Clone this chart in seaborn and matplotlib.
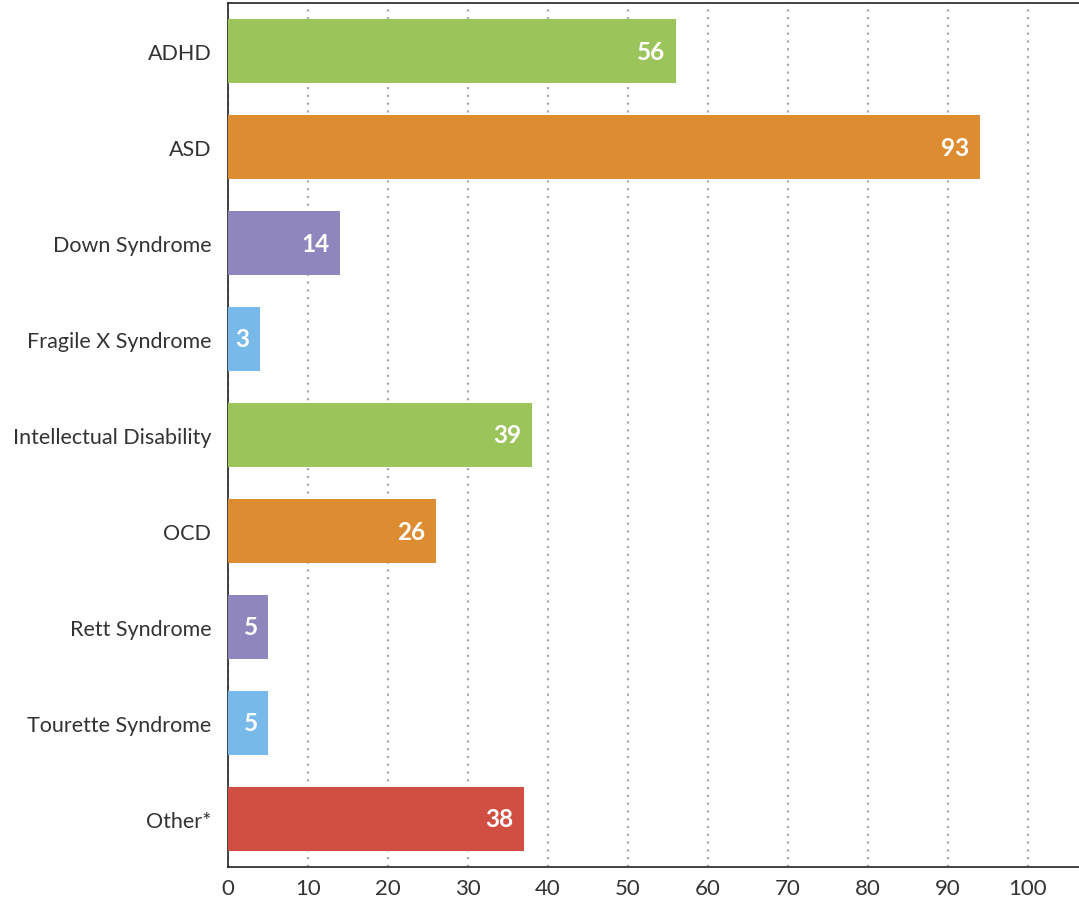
import matplotlib
matplotlib.use('Agg')
import matplotlib.pyplot as plt
import numpy as np
import pandas as pd
import seaborn as sns

# categories, bar lengths and printed labels
categories = ['ADHD', 'ASD', 'Down Syndrome', 'Fragile X Syndrome',
              'Intellectual Disability', 'OCD', 'Rett Syndrome',
              'Tourette Syndrome', 'Other*']
bar_values = [56, 94, 14, 4, 38, 26, 5, 5, 37]
value_labels = ['56', '93', '14', '3', '39', '26', '5', '5', '38']
bar_colors = ['#9BC45A', '#DE8C31', '#8E86BD', '#77B9E8', '#9BC45A',
              '#DE8C31', '#8E86BD', '#77B9E8', '#D14E43']
x_ticks = [0, 10, 20, 30, 40, 50, 60, 70, 80, 90, 100]

sns.set_style('white')
plt.rcParams['font.family'] = ['Lato', 'DejaVu Sans']

df = pd.DataFrame({'category': categories, 'value': bar_values})

fig = plt.figure(figsize=(10.79, 9.04), dpi=100)
ax = fig.add_axes([228 / 1079, 36 / 904, 1 - 228 / 1079, 864 / 904])

sns.barplot(data=df, x='value', y='category', hue='category',
            palette=bar_colors, dodge=False, legend=False,
            width=0.667, saturation=1, linewidth=0, ax=ax, zorder=3)

ax.set_xlim(0, 106.4)
ax.set_ylim(8.5, -0.5)
ax.set_xticks(x_ticks)
ax.grid(axis='x', color='#AAAAAA', linestyle=(0, (1, 2.5)), linewidth=1.6, zorder=0)
ax.set_axisbelow(True)
ax.set_xlabel('')
ax.set_ylabel('')

ax.spines['right'].set_visible(False)
for side in ['left', 'bottom', 'top']:
    ax.spines[side].set_color('#222222')
    ax.spines[side].set_linewidth(1.2)

ax.tick_params(axis='y', length=0, labelsize=15.5, colors='#333333', pad=12)
ax.tick_params(axis='x', length=0, labelsize=16, colors='#333333', pad=8)

for i, (v, lab) in enumerate(zip(bar_values, value_labels)):
    ax.text(v - 1.3, i, lab, ha='right', va='center', color='white',
            fontsize=17.5, fontweight='bold')

fig.savefig('out.png', dpi=100)
